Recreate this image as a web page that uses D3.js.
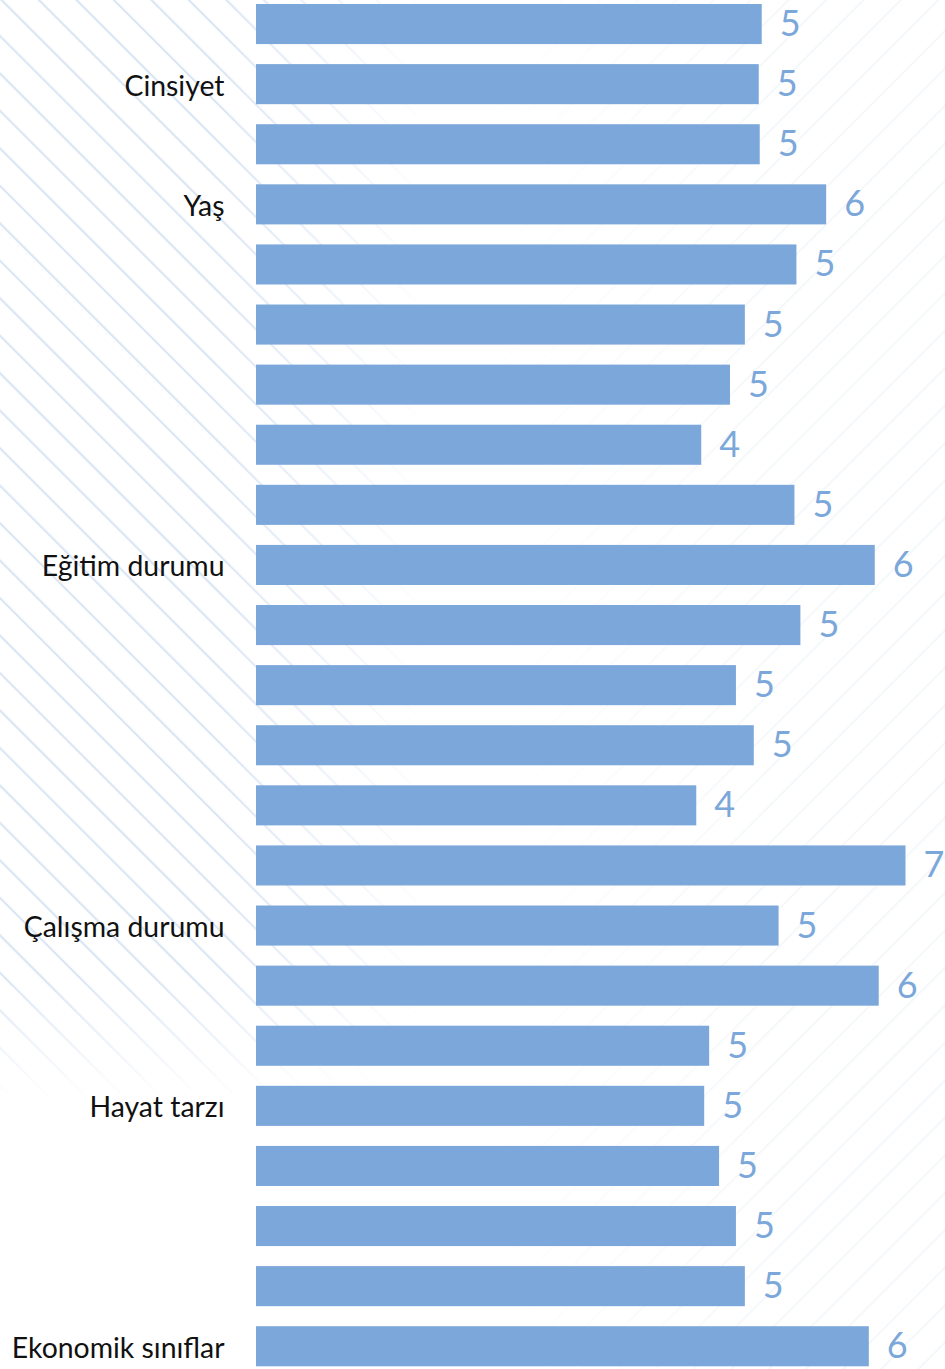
<!DOCTYPE html>
<html lang="tr">
<head>
<meta charset="utf-8">
<script src="https://cdn.jsdelivr.net/npm/d3@7"></script>
<style>
  html, body { margin: 0; padding: 0; background: #ffffff; }
  svg { display: block; }
</style>
</head>
<body>
<div id="chart"></div>
<script>
// Row values (one bar per row, top to bottom)
const values = [5.10, 5.07, 5.08, 5.75, 5.45, 4.93, 4.78, 4.49, 5.43, 6.24, 5.49, 4.84,
                5.02, 4.44, 6.55, 5.27, 6.28, 4.57, 4.52, 4.67, 4.84, 4.93, 6.18];
// Group names shown on the axis, keyed by row index
const groupRows = [1, 3, 9, 15, 18, 22];
const groupNames = ["Cinsiyet", "Yaş", "Eğitim durumu", "Çalışma durumu", "Hayat tarzı", "Ekonomik sınıflar"];

const W = 945, H = 1369;
const barColor = "#7ca7da";

const svg = d3.select("#chart").append("svg")
  .attr("width", W).attr("height", H);

const defs = svg.append("defs");

// Diagonal stripe patterns for the background
const stripeL = defs.append("pattern")
  .attr("id", "stripesL").attr("patternUnits", "userSpaceOnUse")
  .attr("width", 26.5).attr("height", 26.5)
  .attr("patternTransform", "rotate(-45)");
stripeL.append("rect").attr("x", 0).attr("y", 0).attr("width", 2.2).attr("height", 26.5)
  .attr("fill", "#dbe6f4");

const stripeR = defs.append("pattern")
  .attr("id", "stripesR").attr("patternUnits", "userSpaceOnUse")
  .attr("width", 26.5).attr("height", 26.5)
  .attr("patternTransform", "rotate(45)");
stripeR.append("rect").attr("x", 0).attr("y", 0).attr("width", 2.2).attr("height", 26.5)
  .attr("fill", "#f5f8fb");

// Fades for the left stripe band
const gx = defs.append("linearGradient").attr("id", "fadeX")
  .attr("gradientUnits", "userSpaceOnUse").attr("x1", 0).attr("x2", 430).attr("y1", 0).attr("y2", 0);
gx.append("stop").attr("offset", "0").attr("stop-color", "#fff").attr("stop-opacity", 1);
gx.append("stop").attr("offset", "0.5").attr("stop-color", "#fff").attr("stop-opacity", 1);
gx.append("stop").attr("offset", "1").attr("stop-color", "#fff").attr("stop-opacity", 0);

const gy = defs.append("linearGradient").attr("id", "fadeY")
  .attr("gradientUnits", "userSpaceOnUse").attr("x1", 0).attr("x2", 0).attr("y1", 980).attr("y2", 1100);
gy.append("stop").attr("offset", "0").attr("stop-color", "#fff").attr("stop-opacity", 1);
gy.append("stop").attr("offset", "1").attr("stop-color", "#fff").attr("stop-opacity", 0);

const maskY = defs.append("mask").attr("id", "maskY").attr("maskUnits", "userSpaceOnUse")
  .attr("x", 0).attr("y", 0).attr("width", W).attr("height", H);
maskY.append("rect").attr("width", W).attr("height", H).attr("fill", "url(#fadeY)");

const maskX = defs.append("mask").attr("id", "maskX").attr("maskUnits", "userSpaceOnUse")
  .attr("x", 0).attr("y", 0).attr("width", W).attr("height", H);
maskX.append("rect").attr("width", W).attr("height", H).attr("fill", "url(#fadeX)");

const gxR = defs.append("linearGradient").attr("id", "fadeXR")
  .attr("gradientUnits", "userSpaceOnUse").attr("x1", 480).attr("x2", 780).attr("y1", 0).attr("y2", 0);
gxR.append("stop").attr("offset", "0").attr("stop-color", "#fff").attr("stop-opacity", 0);
gxR.append("stop").attr("offset", "1").attr("stop-color", "#fff").attr("stop-opacity", 1);
const maskR = defs.append("mask").attr("id", "maskR").attr("maskUnits", "userSpaceOnUse")
  .attr("x", 0).attr("y", 0).attr("width", W).attr("height", H);
maskR.append("rect").attr("width", W).attr("height", H).attr("fill", "url(#fadeXR)");

const bg = svg.append("g").attr("class", "background");
bg.append("rect").attr("width", W).attr("height", H).attr("fill", "url(#stripesR)")
  .attr("mask", "url(#maskR)");
bg.append("g").attr("mask", "url(#maskY)")
  .append("rect").attr("width", W).attr("height", H).attr("fill", "url(#stripesL)")
  .attr("mask", "url(#maskX)");

// Scales
const x = d3.scaleLinear()
  .domain([0, d3.max(values)])
  .range([256, 905.5]);

const y = d3.scaleBand()
  .domain(d3.range(values.length))
  .range([-6, 1376.3])
  .paddingInner(1 / 3)
  .paddingOuter(1 / 6);

// Bars
svg.append("g").attr("class", "bars")
  .selectAll("rect").data(values).join("rect")
  .attr("x", x(0))
  .attr("y", (d, i) => y(i))
  .attr("width", d => x(d) - x(0))
  .attr("height", y.bandwidth())
  .attr("fill", barColor);

// Value labels
const fmt = d3.format(".0f");
svg.append("g").attr("class", "values")
  .selectAll("text").data(values).join("text")
  .attr("x", d => x(d) + 18)
  .attr("y", (d, i) => y(i) + y.bandwidth() / 2 + 12)
  .attr("font-family", "Lato, sans-serif")
  .attr("font-weight", 400)
  .attr("font-size", 36)
  .attr("fill", barColor)
  .text(d => fmt(d));

// Group axis on the left
const axisLabels = new Map(groupRows.map((r, i) => [r, groupNames[i]]));
const yAxis = d3.axisLeft(y)
  .tickValues(groupRows)
  .tickSize(0)
  .tickPadding(0)
  .tickFormat(i => axisLabels.get(i));

const ax = svg.append("g").attr("class", "axis")
  .attr("transform", "translate(224.5,0)")
  .call(yAxis);
ax.select(".domain").remove();
ax.selectAll("text")
  .attr("dy", null)
  .attr("dominant-baseline", "auto")
  .attr("y", 11.5)
  .attr("font-family", "Lato, sans-serif")
  .attr("font-size", 28.4)
  .attr("fill", "#111111");
</script>
</body>
</html>
